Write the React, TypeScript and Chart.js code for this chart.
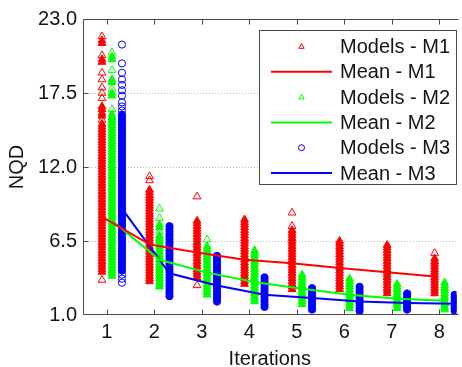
import { useEffect, useRef } from "react";
import { Chart, registerables } from "chart.js";

Chart.register(...registerables);

// ---------- data ----------
const iterations = [1, 2, 3, 4, 5, 6, 7, 8];
const yTickValues = [1.0, 6.5, 12.0, 17.5, 23.0];

// NQD of every model, per iteration
const modelsM1: number[][] = [
  [3.6, 4.2, 4.4, 4.6, 4.8, 5.0, 5.2, 5.4, 5.6, 5.8, 6.0, 6.2, 6.4, 6.6, 6.8, 7.0, 7.2, 7.4, 7.6, 7.8, 8.0, 8.2, 8.4, 8.6, 8.8, 9.0, 9.2, 9.4, 9.6, 9.8, 10.0, 10.2, 10.4, 10.6, 10.8, 11.0, 11.2, 11.4, 11.6, 11.8, 12.0, 12.2, 12.4, 12.6, 12.8, 13.0, 13.2, 13.4, 13.6, 13.8, 14.0, 14.2, 14.4, 14.6, 14.8, 15.0, 15.2, 15.5, 15.8, 16.0, 16.3, 16.5, 17.1, 17.5, 17.9, 18.5, 19.0, 19.8, 20.0, 20.3, 21.2, 21.4, 21.7],
  [3.5, 3.7, 3.9, 4.1, 4.3, 4.5, 4.7, 4.9, 5.1, 5.3, 5.5, 5.7, 5.9, 6.1, 6.3, 6.5, 6.7, 6.9, 7.1, 7.3, 7.5, 7.7, 7.9, 8.1, 8.3, 8.5, 8.7, 8.9, 9.1, 9.3, 9.5, 9.7, 9.9, 10.1, 10.3, 11.0, 11.3],
  [3.2, 3.8, 4.0, 4.2, 4.4, 4.6, 4.8, 5.0, 5.2, 5.4, 5.6, 5.8, 6.0, 6.2, 6.4, 6.6, 6.8, 7.0, 7.2, 7.4, 7.6, 7.8, 8.0, 9.8],
  [3.3, 3.5, 3.7, 3.9, 4.1, 4.3, 4.5, 4.7, 4.9, 5.1, 5.3, 5.5, 5.7, 5.9, 6.1, 6.3, 6.5, 6.7, 6.9, 7.1, 7.3, 7.5, 7.7, 7.9, 8.1],
  [2.9, 3.1, 3.3, 3.5, 3.7, 3.9, 4.1, 4.3, 4.5, 4.7, 4.9, 5.1, 5.3, 5.5, 5.7, 5.9, 6.1, 6.3, 6.5, 6.7, 6.9, 7.1, 7.3, 7.6, 8.6],
  [2.9, 3.1, 3.3, 3.5, 3.7, 3.9, 4.1, 4.3, 4.5, 4.7, 4.9, 5.1, 5.3, 5.5, 5.7, 5.9, 6.1, 6.3, 6.5],
  [2.6, 2.8, 3.0, 3.2, 3.4, 3.6, 3.8, 4.0, 4.2, 4.4, 4.6, 4.8, 5.0, 5.2, 5.4, 5.6, 5.8, 6.0, 6.2],
  [2.6, 2.8, 3.0, 3.2, 3.4, 3.6, 3.8, 4.0, 4.2, 4.4, 4.6, 4.8, 5.0, 5.2, 5.6],
];

const modelsM2: number[][] = [
  [3.9, 4.1, 4.3, 4.5, 4.7, 4.9, 5.1, 5.3, 5.5, 5.7, 5.9, 6.1, 6.3, 6.5, 6.7, 6.9, 7.1, 7.3, 7.5, 7.7, 7.9, 8.1, 8.3, 8.5, 8.7, 8.9, 9.1, 9.3, 9.5, 9.7, 9.9, 10.1, 10.3, 10.5, 10.7, 10.9, 11.1, 11.3, 11.5, 11.7, 11.9, 12.1, 12.3, 12.5, 12.7, 12.9, 13.1, 13.3, 13.5, 13.7, 13.9, 14.1, 14.3, 14.5, 14.7, 14.9, 15.1, 15.3, 15.5, 15.7, 15.9, 16.3, 17.3, 17.5, 17.8, 18.3, 18.5, 19.2, 20.0, 20.2, 20.5],
  [3.1, 3.3, 3.5, 3.7, 3.9, 4.1, 4.3, 4.5, 4.7, 4.9, 5.1, 5.3, 5.5, 5.7, 5.9, 6.1, 6.3, 6.5, 6.7, 6.9, 7.2, 7.5, 7.7, 8.2, 8.9],
  [2.5, 2.7, 2.9, 3.1, 3.3, 3.5, 3.7, 3.9, 4.1, 4.3, 4.5, 4.7, 4.9, 5.1, 5.3, 5.5, 5.7, 5.9, 6.1, 6.6],
  [2.0, 2.2, 2.4, 2.6, 2.8, 3.0, 3.2, 3.4, 3.6, 3.8, 4.0, 4.2, 4.4, 4.6, 4.8, 5.0, 5.2, 5.4, 5.6, 5.8],
  [1.8, 2.0, 2.2, 2.4, 2.6, 2.8, 3.0, 3.2, 3.4, 3.6, 3.8, 4.0],
  [1.5, 1.7, 1.9, 2.1, 2.3, 2.5, 2.7, 2.9, 3.1, 3.3, 3.5, 3.7],
  [1.5, 1.7, 1.9, 2.1, 2.3, 2.5, 2.7, 2.9, 3.1, 3.3],
  [1.4, 1.6, 1.8, 2.0, 2.2, 2.4, 2.6, 2.8, 3.0, 3.2, 3.4],
];

const modelsM3: number[][] = [
  [3.4, 3.7, 4.0, 4.3, 4.5, 4.7, 4.9, 5.1, 5.3, 5.5, 5.7, 5.9, 6.1, 6.3, 6.5, 6.7, 6.9, 7.1, 7.3, 7.5, 7.7, 7.9, 8.1, 8.3, 8.5, 8.7, 8.9, 9.1, 9.3, 9.5, 9.7, 9.9, 10.1, 10.3, 10.5, 10.7, 10.9, 11.1, 11.3, 11.5, 11.7, 11.9, 12.1, 12.3, 12.5, 12.7, 12.9, 13.1, 13.3, 13.5, 13.7, 13.9, 14.1, 14.3, 14.5, 14.7, 14.9, 15.1, 15.3, 15.5, 15.7, 15.9, 16.2, 16.5, 16.8, 17.3, 17.7, 18.1, 18.5, 19.0, 19.7, 21.1],
  [2.4, 2.6, 2.8, 3.0, 3.2, 3.4, 3.6, 3.8, 4.0, 4.2, 4.4, 4.6, 4.8, 5.0, 5.2, 5.4, 5.6, 5.8, 6.0, 6.2, 6.4, 6.6, 6.8, 7.0, 7.2, 7.4, 7.6],
  [2.0, 2.2, 2.4, 2.6, 2.8, 3.0, 3.2, 3.4, 3.6, 3.8, 4.0, 4.2, 4.4, 4.6, 4.8, 5.0, 5.2, 5.4],
  [1.6, 1.8, 2.0, 2.2, 2.4, 2.6, 2.8, 3.0, 3.2, 3.4, 3.6, 3.8],
  [1.4, 1.6, 1.8, 2.0, 2.2, 2.4, 2.6, 2.8, 3.0],
  [1.3, 1.5, 1.7, 1.9, 2.1, 2.3, 2.5, 2.7, 2.9, 3.1],
  [1.4, 1.6, 1.8, 2.0, 2.2, 2.4, 2.6],
  [1.3, 1.5, 1.7, 1.9, 2.1, 2.3, 2.5],
];

const meanM1 = [8.3, 6.25, 5.65, 5.1, 4.85, 4.5, 4.17, 3.87];
const meanM2 = [8.0, 5.1, 4.15, 3.45, 2.95, 2.5, 2.2, 2.06];
const meanM3 = [8.9, 4.1, 3.2, 2.5, 2.26, 2.0, 1.9, 1.84];

// ---------- style ----------
const RED = "#ff0000";
const GREEN = "#00ff00";
const BLUE = "#0000ff";
const AXIS = "#4a4a4a";
const TEXT = "#141414";
const FONT = "'Liberation Sans', Arial, Helvetica, sans-serif";
const OFFSETS = [-0.1, 0.11, 0.32];

type Pt = { x: number; y: number; dense: boolean };

function modelPoints(cols: number[][], off: number): Pt[] {
  const pts: Pt[] = [];
  cols.forEach((vals, i) => {
    const x = iterations[i] + off;
    const s = [...vals].sort((a, b) => a - b);
    s.forEach((v, j) => {
      const dense =
        (j > 0 && v - s[j - 1] < 0.26) || (j < s.length - 1 && s[j + 1] - v < 0.26);
      pts.push({ x, y: v, dense });
    });
  });
  return pts;
}

function meanPoints(vals: number[], off: number) {
  return vals.map((v, i) => ({ x: iterations[i] + off, y: v }));
}

const fill = (color: string) => (c: any) =>
  c.raw && c.raw.dense ? color : "rgba(0,0,0,0)";

const axesBox = {
  id: "axesBox",
  afterDraw(chart: any) {
    const { ctx, chartArea, scales } = chart;
    const { left, top, right, bottom } = chartArea;
    const L = Math.round(left) + 0.5;
    const T = Math.round(top) + 0.5;
    const B = Math.round(bottom) - 0.5;
    ctx.save();
    ctx.strokeStyle = AXIS;
    ctx.lineWidth = 1;
    ctx.beginPath();
    ctx.moveTo(right + 2, T);
    ctx.lineTo(L, T);
    ctx.lineTo(L, B);
    ctx.lineTo(right + 2, B);
    iterations.forEach((v) => {
      const px = Math.round(scales.x.getPixelForValue(v)) + 0.5;
      ctx.moveTo(px, B);
      ctx.lineTo(px, B - 5);
      ctx.moveTo(px, T);
      ctx.lineTo(px, T + 5);
    });
    yTickValues.slice(1, -1).forEach((v) => {
      const py = Math.round(scales.y.getPixelForValue(v)) + 0.5;
      ctx.moveTo(L, py);
      ctx.lineTo(L + 5, py);
    });
    ctx.stroke();
    ctx.restore();
  },
};

const boxLegend = {
  id: "boxLegend",
  afterDraw(chart: any) {
    const { ctx } = chart;
    const order = ["Models - M1", "Mean - M1", "Models - M2", "Mean - M2", "Models - M3", "Mean - M3"];
    const x0 = 259.5, y0 = 30.5, w = 197, h = 154;
    ctx.save();
    ctx.fillStyle = "#ffffff";
    ctx.fillRect(x0, y0, w, h);
    ctx.strokeStyle = AXIS;
    ctx.lineWidth = 1;
    ctx.strokeRect(x0, y0, w, h);
    ctx.font = `20px ${FONT}`;
    ctx.textBaseline = "middle";
    ctx.textAlign = "left";
    order.forEach((label, k) => {
      const ds = chart.data.datasets.find((d: any) => d.label === label);
      const cy = 46.5 + k * 25.3;
      const color = ds.borderColor;
      if (ds.showLine) {
        ctx.strokeStyle = color;
        ctx.lineWidth = 2;
        ctx.beginPath();
        ctx.moveTo(271, cy);
        ctx.lineTo(332, cy);
        ctx.stroke();
      } else {
        ctx.strokeStyle = color;
        ctx.lineWidth = 1;
        ctx.beginPath();
        if (ds.pointStyle === "circle") {
          ctx.arc(301.5, cy, 3, 0, Math.PI * 2);
        } else {
          ctx.moveTo(301.5, cy - 3);
          ctx.lineTo(304.2, cy + 1.8);
          ctx.lineTo(298.8, cy + 1.8);
          ctx.closePath();
        }
        ctx.stroke();
      }
      ctx.fillStyle = TEXT;
      ctx.fillText(label, 340, cy + 1);
    });
    ctx.restore();
  },
};

export default function App() {
  const ref = useRef<HTMLCanvasElement | null>(null);

  useEffect(() => {
    if (!ref.current) return;
    const tickFont = { family: FONT, size: 20 };
    const chart = new Chart(ref.current, {
      type: "scatter",
      data: {
        datasets: [
          { label: "Mean - M1", data: meanPoints(meanM1, OFFSETS[0]), showLine: true, borderColor: RED, backgroundColor: RED, borderWidth: 2, pointRadius: 0, order: 0 },
          { label: "Mean - M2", data: meanPoints(meanM2, OFFSETS[1]), showLine: true, borderColor: GREEN, backgroundColor: GREEN, borderWidth: 2, pointRadius: 0, order: 0 },
          { label: "Mean - M3", data: meanPoints(meanM3, OFFSETS[2]), showLine: true, borderColor: BLUE, backgroundColor: BLUE, borderWidth: 2, pointRadius: 0, order: 0 },
          { label: "Models - M1", data: modelPoints(modelsM1, OFFSETS[0]), pointStyle: "triangle", pointRadius: 4.5, borderWidth: 1, borderColor: RED, backgroundColor: fill(RED), order: 1 },
          { label: "Models - M2", data: modelPoints(modelsM2, OFFSETS[1]), pointStyle: "triangle", pointRadius: 4.5, borderWidth: 1, borderColor: GREEN, backgroundColor: fill(GREEN), order: 1 },
          { label: "Models - M3", data: modelPoints(modelsM3, OFFSETS[2]), pointStyle: "circle", pointRadius: 3.6, borderWidth: 1, borderColor: BLUE, backgroundColor: fill(BLUE), order: 1 },
        ] as any,
      },
      options: {
        animation: false,
        responsive: false,
        maintainAspectRatio: false,
        layout: { padding: { top: 19, right: 0, bottom: 0, left: 0 } },
        plugins: { legend: { display: false }, tooltip: { enabled: false } },
        scales: {
          x: {
            type: "linear",
            min: 0.5,
            max: 8.36,
            afterBuildTicks: (s: any) => {
              s.ticks = iterations.map((v) => ({ value: v }));
            },
            afterFit: (s: any) => {
              s.height = 52;
            },
            grid: { display: false, drawTicks: false },
            border: { display: false },
            ticks: { font: tickFont, color: TEXT, padding: 5, maxRotation: 0, callback: (v: any) => String(v) },
            title: { display: true, text: "Iterations", color: TEXT, font: { family: FONT, size: 20, lineHeight: 0.8 }, padding: { top: 0, bottom: 0 } },
          },
          y: {
            type: "linear",
            min: 1,
            max: 23,
            afterBuildTicks: (s: any) => {
              s.ticks = yTickValues.map((v) => ({ value: v }));
            },
            afterFit: (s: any) => {
              s.width = 83;
            },
            grid: {
              drawTicks: false,
              lineWidth: 1,
              color: (c: any) =>
                c.tick && (c.tick.value === 1 || c.tick.value === 23) ? "rgba(0,0,0,0)" : "#bdbdbd",
            },
            border: { display: false, dash: [1, 2] },
            ticks: { font: tickFont, color: TEXT, padding: 6, callback: (v: any) => Number(v).toFixed(1) },
            title: { display: true, text: "NQD", color: TEXT, font: { family: FONT, size: 20, lineHeight: 1 }, padding: { top: 7, bottom: 0 } },
          },
        },
      } as any,
      plugins: [axesBox, boxLegend],
    });
    return () => chart.destroy();
  }, []);

  return (
    <div style={{ position: "absolute", left: 0, top: 0, width: 462, height: 367, overflow: "hidden", background: "#fff" }}>
      <canvas ref={ref} width={462} height={367} style={{ display: "block", width: 462, height: 367 }} />
    </div>
  );
}
